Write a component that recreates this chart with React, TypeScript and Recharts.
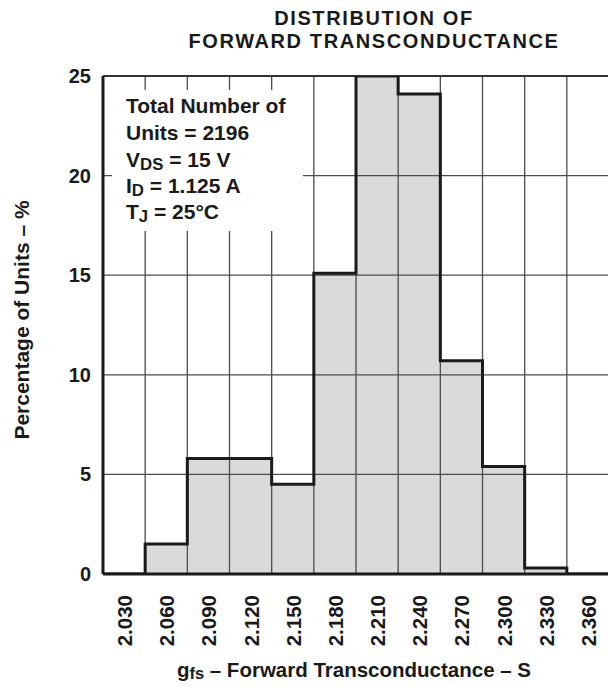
import React from 'react';
import { ComposedChart, Area, Line, XAxis, YAxis, ReferenceLine } from 'recharts';

// bin centres (S) and share of units in each bin (%)
const categories = ['2.030', '2.060', '2.090', '2.120', '2.150', '2.180', '2.210', '2.240', '2.270', '2.300', '2.330', '2.360'];
const percentages = [0, 1.5, 5.8, 5.8, 4.5, 15.1, 25, 24.1, 10.7, 5.4, 0.3, 0];
const yTicks = [0, 5, 10, 15, 20, 25];
const binWidth = 0.03;

const centers = categories.map((c) => parseFloat(c));
const edges = centers.map((c) => c - binWidth / 2).concat(centers[centers.length - 1] + binWidth / 2);
const stepData = edges.map((x, i) => ({ x, pct: percentages[Math.min(i, percentages.length - 1)] }));
const innerEdges = edges.slice(1, -1);

const FONT = '"Liberation Sans", Arial, Helvetica, sans-serif';
const INK = '#1a1a1a';
const GRID = '#4d4d4d';

const XTick = ({ x, y, payload }: any) => (
  <text
    x={0}
    y={0}
    transform={`translate(${x + 8},${y + 13}) rotate(-90)`}
    textAnchor="end"
    fontFamily={FONT}
    fontWeight="bold"
    fontSize={20.5}
    fill={INK}
  >
    {Number(payload.value).toFixed(3)}
  </text>
);

const YTick = ({ y, payload }: any) => (
  <text x={91} y={y + 7} textAnchor="end" fontFamily={FONT} fontWeight="bold" fontSize={20} fill={INK}>
    {payload.value}
  </text>
);

const line = (baseline: number, fs: number): React.CSSProperties => ({
  position: 'absolute',
  top: baseline - 0.8465 * fs,
  fontSize: fs,
  lineHeight: `${fs}px`,
  whiteSpace: 'nowrap',
});

const sub: React.CSSProperties = { fontSize: '0.8em', position: 'relative', top: '0.17em' };
const title: React.CSSProperties = { left: 374, transform: 'translateX(-50%)', letterSpacing: 1.6 };

export default function App() {
  return (
    <div style={{ position: 'absolute', left: 0, top: 0, width: 608, height: 687, background: '#fff', fontFamily: FONT, fontWeight: 'bold', color: INK, overflow: 'hidden' }}>
      <ComposedChart width={609} height={687} data={stepData} margin={{ top: 76, right: 0, bottom: 0, left: 0 }}>
        <XAxis
          type="number"
          dataKey="x"
          domain={[edges[0], edges[edges.length - 1]]}
          ticks={centers}
          interval={0}
          tick={<XTick />}
          tickLine={false}
          axisLine={false}
          height={113}
          allowDataOverflow
        />
        <YAxis
          type="number"
          domain={[0, 25]}
          ticks={yTicks}
          tick={<YTick />}
          tickLine={false}
          axisLine={false}
          width={103}
          allowDataOverflow
        />
        <Area
          type="stepAfter"
          dataKey="pct"
          fill="#d9dadc"
          fillOpacity={1}
          stroke="none"
          isAnimationActive={false}
        />
        {innerEdges.map((e) => (
          <ReferenceLine key={`v${e}`} x={e} stroke={GRID} strokeWidth={1.3} />
        ))}
        {yTicks.slice(1, -1).map((t) => (
          <ReferenceLine key={`h${t}`} y={t} stroke={GRID} strokeWidth={1.3} />
        ))}
        <ReferenceLine y={25} stroke="#333" strokeWidth={2} />
        <Line
          type="stepAfter"
          dataKey="pct"
          stroke={INK}
          strokeWidth={3}
          dot={false}
          activeDot={false}
          isAnimationActive={false}
        />
        <ReferenceLine y={0} stroke={INK} strokeWidth={3} />
        <ReferenceLine x={edges[0]} stroke={INK} strokeWidth={3} />
      </ComposedChart>

      <div style={{ position: 'absolute', left: 0, top: 0, width: 608, height: 687, pointerEvents: 'none' }}>
        <div style={{ ...line(24.5, 20), ...title }}>DISTRIBUTION OF</div>
        <div style={{ ...line(47.5, 20), ...title }}>FORWARD TRANSCONDUCTANCE</div>

        <div style={{ position: 'absolute', left: 112, top: 90, width: 191, height: 141, background: '#fff' }} />
        <div style={{ ...line(113, 21), left: 126 }}>Total Number of</div>
        <div style={{ ...line(140, 21), left: 126 }}>Units = 2196</div>
        <div style={{ ...line(166.5, 21), left: 126 }}>V<span style={sub}>DS</span> = 15 V</div>
        <div style={{ ...line(192.5, 21), left: 126 }}>I<span style={sub}>D</span> = 1.125 A</div>
        <div style={{ ...line(218.5, 21), left: 126 }}>T<span style={sub}>J</span> = 25°C</div>

        <div style={{ ...line(677, 20.5), left: 354, transform: 'translateX(-50%)' }}>
          g<span style={sub}>fs</span> – Forward Transconductance – S
        </div>
        <div
          style={{
            position: 'absolute',
            left: 21,
            top: 320,
            fontSize: 21,
            lineHeight: '21px',
            whiteSpace: 'nowrap',
            transform: 'translate(-50%, -50%) rotate(-90deg)',
          }}
        >
          Percentage of Units – %
        </div>
      </div>
    </div>
  );
}
